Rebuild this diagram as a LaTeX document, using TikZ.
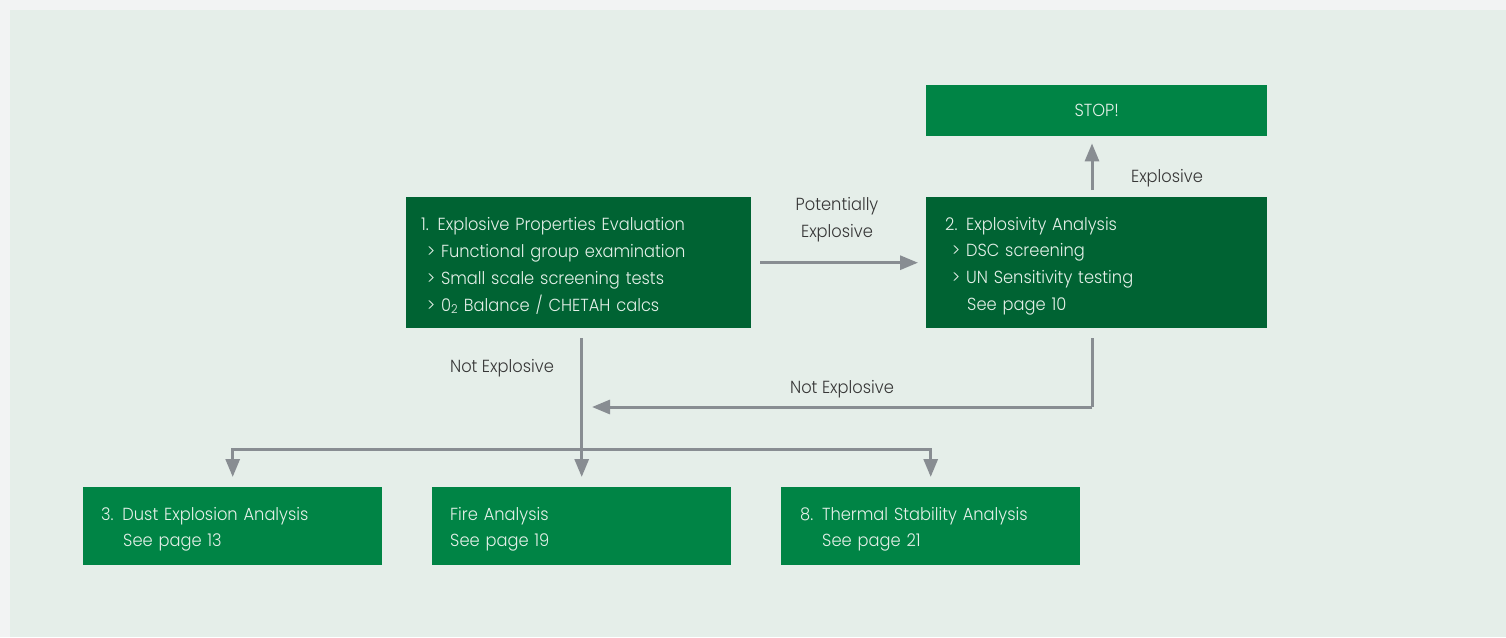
\documentclass[tikz,border=0pt]{standalone}
\usepackage{fontspec}
\setmainfont{Poppins}[UprightFont=* Light, FakeStretch=0.93]
\usetikzlibrary{arrows.meta}
\definecolor{bgout}{RGB}{242,243,243}
\definecolor{bgin}{RGB}{229,238,233}
\definecolor{dgreen}{RGB}{0,99,51}
\definecolor{mgreen}{RGB}{0,132,69}
\definecolor{boxtext}{RGB}{228,240,232}
\definecolor{arrgray}{RGB}{136,141,146}
\definecolor{labtext}{RGB}{55,55,55}
\tikzset{
  basefont/.style={font=\fontsize{17.5}{26.7}\selectfont},
  box/.style={basefont, anchor=north west, align=left, text=boxtext, inner ysep=0pt},
  darkbox/.style={box, fill=dgreen},
  lightbox/.style={box, fill=mgreen},
  lowered/.style={execute at begin node={\rule{0pt}{19.5pt}}},
  lab/.style={basefont, text=labtext, align=center, inner sep=0pt},
  arr/.style={draw=arrgray, line width=3pt, -{Triangle[length=18pt,width=14pt]}},
  plain/.style={draw=arrgray, line width=3pt}
}
\begin{document}
\begin{tikzpicture}[x=1pt,y=-1pt]
\fill[bgout] (0,0) rectangle (1506,637);
\fill[bgin] (10,10) rectangle (1506,637);
\useasboundingbox (0,0) rectangle (1506,637);

\node[darkbox, lowered, inner xsep=15pt, text width=315pt, minimum height=131pt] (n1) at (406,197)
 {1. Explosive Properties Evaluation\\
  \hspace{6pt}> Functional group examination\\
  \hspace{6pt}> Small scale screening tests\\
  \hspace{6pt}> 0\textsubscript{2} Balance / CHETAH calcs};
\node[darkbox, lowered, inner xsep=19pt, text width=303pt, minimum height=131pt] (n2) at (926,197)
 {2. Explosivity Analysis\\
  \hspace{7pt}> DSC screening\\
  \hspace{7pt}> UN Sensitivity testing\\
  \hspace{22pt}See page 10};
\node[lightbox, inner xsep=0pt, text width=341pt, minimum height=51pt, align=center] (stop) at (926,85) {STOP!};
\node[lightbox, lowered, inner xsep=18pt, text width=263pt, minimum height=78pt] (dust) at (83,487)
 {3. Dust Explosion Analysis\\ \hspace{22pt}See page 13};
\node[lightbox, lowered, inner xsep=18pt, text width=263pt, minimum height=78pt] (fire) at (432,487)
 {Fire Analysis\\ See page 19};
\node[lightbox, lowered, inner xsep=19pt, text width=261pt, minimum height=78pt] (therm) at (781,487)
 {8. Thermal Stability Analysis\\ \hspace{22pt}See page 21};

\coordinate (colR) at (1092,0);
\coordinate (br) at (581,449);
\coordinate (bend) at (1092,407);
\coordinate (ne) at (592,407);

\draw[arr, shorten <=9pt, shorten >=8pt] (n1.east) -- (n2.west);
\draw[arr, shorten <=7pt, shorten >=7pt] (n2.north -| colR) -- (stop.south -| colR);
\draw[plain, shorten <=10pt] (n2.south -| colR) -- (bend);
\draw[arr] (bend) -- (ne);
\draw[arr, shorten <=10pt, shorten >=10pt] (n1.south -| fire.north) -- (fire.north);
\draw[arr, shorten >=10pt] (br) -| (dust.north);
\draw[arr, shorten >=10pt] (br) -| (therm.north);

\node[lab] (lpe) at (837,220) {Potentially\\Explosive};
\node[lab] (lex) at (1167,178) {Explosive};
\node[lab] (lne1) at (502,368) {Not Explosive};
\node[lab] (lne2) at (842,389) {Not Explosive};
\end{tikzpicture}
\end{document}
